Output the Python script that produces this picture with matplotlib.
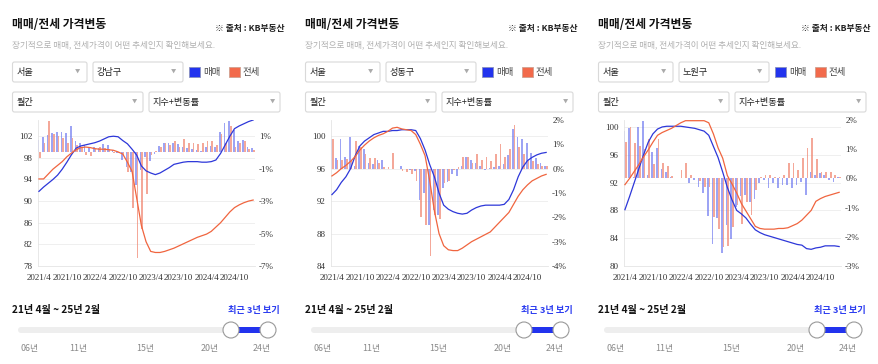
import numpy as np
import matplotlib.pyplot as plt
from matplotlib.patches import FancyBboxPatch, Rectangle, Circle

plt.rcParams['font.family'] = ['Noto Sans CJK KR', 'DejaVu Sans']

# ---- data (2021/4 ~ 2025/2, monthly) ----
x_tick_labels = ['2021/4', '2021/10', '2022/4', '2022/10', '2023/4', '2023/10', '2024/4', '2024/10']
districts = ['강남구', '성동구', '노원구']

gangnam_sale_idx = [91.8, 92.6, 93.3, 94.0, 94.8, 95.9, 97.2, 98.6, 99.8, 100.2, 100.4, 100.6, 100.8, 101.1,
                    101.5, 101.9, 102.0, 101.9, 101.2, 100.6, 99.6, 98.5, 96.5, 95.6, 95.2, 94.9, 95.2, 95.7,
                    96.2, 96.8, 97.0, 97.2, 97.3, 97.3, 97.3, 97.2, 97.2, 97.3, 97.6, 98.8, 100.4, 102.0,
                    103.4, 103.9, 104.3, 104.7, 105.0]
gangnam_jeonse_idx = [94.1, 94.1, 95.0, 95.9, 96.6, 97.3, 98.2, 98.9, 99.5, 99.9, 100.0, 99.9, 99.7, 99.6,
                      99.6, 99.5, 99.4, 99.1, 98.7, 97.2, 95.5, 90.5, 85.5, 82.5, 80.7, 80.5, 80.5, 80.7,
                      81.0, 81.3, 81.7, 82.1, 82.5, 82.9, 83.3, 83.6, 83.9, 84.4, 85.2, 86.0, 87.0, 88.0,
                      88.8, 89.3, 89.7, 90.0, 90.2]
gangnam_sale_chg = [0.74, 0.95, 1.1, 1.2, 1.24, 1.28, 1.2, 1.66, 0.68, 0.57, 0.43, 0.36, 0.32, 0.26, 0.53,
                    0.47, 0.16, -0.05, -0.47, -0.89, -1.2, -2.0, -1.1, -0.26, -0.51, -0.1, 0.4, 0.57, 0.6,
                    0.57, 0.53, 0.36, 0.26, 0.2, 0.16, 0.11, 0.32, 0.4, 0.36, 1.24, 1.82, 1.93, 1.36, 0.68,
                    0.78, 0.36, 0.3]
gangnam_jeonse_chg = [-0.32, 0.57, 1.93, 1.15, 1.03, 0.89, 0.57, 0.89, 0.47, 0.32, -0.16, -0.2, 0.2, 0.32,
                      0.26, 0.2, -0.05, -0.05, -0.16, -1.2, -3.4, -6.5, -4.7, -2.55, -0.16, 0.1, 0.32, 0.6,
                      0.47, 0.68, 0.36, 0.82, 0.57, 0.57, 0.53, 0.57, 0.68, 0.68, 0.47, 1.15, 0.57, 1.6,
                      0.36, 0.57, 0.68, 0.2, 0.15]

seongdong_sale_idx = [92.8, 93.4, 94.3, 95.0, 96.0, 97.6, 98.8, 99.4, 99.8, 100.2, 100.4, 100.6, 100.6, 100.7,
                      100.7, 100.8, 100.8, 100.8, 100.7, 99.7, 98.3, 96.5, 95.0, 93.0, 91.5, 91.0, 90.7, 90.5,
                      90.4, 90.5, 90.9, 91.2, 91.4, 91.5, 91.5, 91.5, 91.5, 91.6, 92.2, 93.4, 95.0, 96.2,
                      97.0, 97.4, 97.7, 97.9, 98.0]
seongdong_jeonse_idx = [95.1, 95.5, 96.0, 96.4, 96.9, 97.5, 98.3, 98.9, 99.4, 99.8, 100.1, 100.3, 100.6, 101.0,
                        101.1, 100.9, 100.8, 100.7, 100.2, 99.0, 97.6, 94.5, 90.8, 88.0, 86.5, 86.0, 85.9, 85.9,
                        86.2, 86.6, 87.0, 87.3, 87.6, 87.9, 88.2, 88.8, 89.4, 90.0, 90.6, 91.6, 92.6, 93.4,
                        94.0, 94.5, 94.8, 95.1, 95.3]
seongdong_sale_chg = [1.2, 0.45, 1.2, 0.5, 1.3, 0.1, 0.95, 0.8, 0.25, 0.2, 0.35, 0.35, 0.0, 0.0, 0.0, 0.1,
                      0.0, -0.05, -0.1, -1.3, -1.0, -2.3, -1.7, -1.9, -0.8, -0.55, -0.2, -0.3, 0.12, 0.5,
                      0.35, 0.25, 0.12, -0.05, 0.03, 0.05, 0.1, 0.2, 0.55, 1.65, 1.3, 1.2, 1.05, 0.65, 0.45,
                      0.25, 0.1]
seongdong_jeonse_chg = [1.2, 0.35, 0.35, 0.4, 0.3, 1.15, 0.9, 0.6, 0.45, 0.45, 0.25, 0.05, 0.05, 0.65, 0.0,
                        -0.1, -0.12, -0.2, -0.5, -2.0, -2.3, -3.6, -1.9, -2.05, -0.6, -0.5, -0.05, 0.05, 0.5,
                        0.5, 0.25, 0.6, 0.35, 0.5, 0.3, 0.6, 1.0, 0.5, 0.8, 1.8, 0.9, 0.6, 0.35, 0.3, 0.2,
                        0.12, 0.1]

nowon_sale_idx = [88.1, 90.0, 92.0, 94.0, 96.0, 97.8, 99.0, 99.7, 100.0, 100.1, 100.1, 100.1, 100.1, 100.0,
                  99.9, 99.8, 99.6, 99.4, 98.8, 97.2, 95.6, 93.5, 91.3, 89.5, 88.0, 87.5, 86.9, 86.0, 85.2,
                  84.8, 84.5, 84.3, 84.1, 83.9, 83.7, 83.5, 83.3, 83.1, 83.0, 82.5, 82.4, 82.6, 82.7, 82.9,
                  82.9, 82.9, 82.8]
nowon_jeonse_idx = [91.7, 92.6, 93.6, 94.6, 95.7, 96.7, 97.8, 98.8, 99.2, 99.5, 99.8, 100.2, 100.6, 100.9,
                    100.9, 100.9, 100.9, 100.9, 100.6, 99.0, 97.0, 95.5, 93.0, 91.8, 90.5, 89.0, 87.9, 86.8,
                    85.7, 85.4, 85.3, 85.3, 85.3, 85.4, 85.4, 85.5, 85.8, 86.1, 86.6, 87.3, 88.0, 89.3,
                    89.7, 90.0, 90.2, 90.4, 90.6]
nowon_sale_chg = [1.64, 1.72, 0.05, 1.76, 1.95, 0.1, 0.92, 1.03, 0.31, 0.23, 0.05, 0.0, 0.02, 0.0, -0.17,
                  -0.05, -0.29, -0.49, -1.3, -2.24, -1.34, -2.56, -1.61, -2.07, -0.98, -0.61, -0.57, -0.8,
                  -0.69, -0.17, -0.05, -0.34, -0.17, -0.34, -0.23, -0.23, -0.34, -0.23, -0.11, -0.57, 0.23,
                  0.11, 0.2, 0.11, -0.05, -0.11, 0.05]
nowon_jeonse_chg = [1.24, 1.75, 1.2, 1.1, 1.0, 1.34, 0.5, 1.34, 0.52, 0.43, 0.09, 0.02, 0.29, 0.52, 0.1,
                    0.0, -0.1, -0.29, -0.3, -1.32, -1.72, -2.36, -2.33, -1.67, -0.92, -1.55, -0.8, -1.26,
                    -0.4, 0.05, 0.11, 0.11, 0.05, 0.05, 0.11, 0.52, 0.52, 0.29, 0.69, 1.03, 1.38, 0.66,
                    0.23, 0.23, 0.23, 0.11, 0.05]

slider_labels = ['06년', '11년', '15년', '20년', '24년']
slider_label_x = [30, 78, 145, 210, 262]

W, H = 879, 364
BLUE_LINE = '#2d37d9'
RED_LINE = '#f0653f'
SERIF = 'Liberation Serif'
TICK_SIZE = 6.5

fig = plt.figure(figsize=(W / 100, H / 100), dpi=100)
fig.patch.set_facecolor('white')
ui = fig.add_axes([0, 0, 1, 1])
ui.set_xlim(0, W)
ui.set_ylim(H, 0)
ui.axis('off')


def box(x0, y0, x1, y1, label, arrow_x):
    ui.add_patch(FancyBboxPatch((x0, y0), x1 - x0, y1 - y0, boxstyle='round,pad=0,rounding_size=2',
                                fc='white', ec='#d9d9d9', lw=0.8))
    ui.text(x0 + 4, (y0 + y1) / 2, label, fontsize=6.6, color='#222222', va='center', ha='left')
    ui.text(arrow_x, (y0 + y1) / 2 + 0.5, '▼', fontsize=3.8, color='#aaaaaa', va='center', ha='center')


def draw_ui(ox, district):
    ui.text(ox + 12, 25, '매매/전세 가격변동', fontsize=8.5, fontweight='bold', color='#111111', va='center')
    ui.text(ox + 285, 29, '※ 출처 : KB부동산', fontsize=6.3, fontweight='bold', color='#222222',
            va='center', ha='right')
    ui.text(ox + 12, 45, '장기적으로 매매, 전세가격이 어떤 추세인지 확인해보세요.', fontsize=6.2,
            color='#b0b0b0', va='center')
    box(ox + 12.5, 62, ox + 87, 82, '서울', ox + 77)
    box(ox + 93, 62, ox + 183, 82, district, ox + 173)
    ui.add_patch(Rectangle((ox + 189.5, 67), 10.5, 10, fc='#2233ee', ec='#8890c0', lw=0.6))
    ui.text(ox + 203, 72, '매매', fontsize=6.8, color='#444444', va='center')
    ui.add_patch(Rectangle((ox + 229.5, 67), 10.5, 10, fc='#f26a4b', ec='#d0a090', lw=0.6))
    ui.text(ox + 243, 72, '전세', fontsize=6.8, color='#444444', va='center')
    box(ox + 12.5, 92, ox + 143, 112, '월간', ox + 134)
    box(ox + 149, 92, ox + 280, 112, '지수+변동률', ox + 272)

    # period + slider
    ui.text(ox + 12, 310, '21년 4월 ~ 25년 2월', fontsize=7.3, fontweight='bold', color='#111111', va='center')
    ui.text(ox + 280, 310, '최근 3년 보기', fontsize=6.6, fontweight='bold', color='#2a3bf0',
            va='center', ha='right')
    ui.add_patch(FancyBboxPatch((ox + 18, 327), 257, 6, boxstyle='round,pad=0,rounding_size=3',
                                fc='#eeeeee', ec='none'))
    ui.add_patch(Rectangle((ox + 231, 327), 37, 6, fc='#2233ee', ec='none'))
    for cx in (ox + 231, ox + 268):
        ui.add_patch(Circle((cx, 330), 8, fc='white', ec='#999999', lw=0.8, zorder=3))
    for lab, lx in zip(slider_labels, slider_label_x):
        ui.text(ox + lx, 348, lab, fontsize=6.4, color='#8a8a8a', va='center', ha='center')


def draw_chart(ox, sale_idx, jeonse_idx, sale_chg, jeonse_chg, lrange, lticks, rrange, rticks):
    ax = fig.add_axes([(ox + 38) / W, (H - 266) / H, 217 / W, 146 / H])
    ax2 = ax.twinx()
    x = np.arange(len(sale_idx))

    # grid at left-axis ticks, converted to right-axis units
    for v in lticks:
        g = rrange[0] + (v - lrange[0]) / (lrange[1] - lrange[0]) * (rrange[1] - rrange[0])
        ax.axhline(g, color='#ececec', lw=0.6, zorder=0)

    ax.bar(x - 0.18, sale_chg, width=0.36, color='#5c68ee', alpha=0.6, zorder=2)
    ax.bar(x + 0.18, jeonse_chg, width=0.36, color='#f0846e', alpha=0.7, zorder=2)
    ax.set_ylim(rrange)
    ax.set_xlim(-0.2, 46.4)
    ax.yaxis.tick_right()
    ax.set_yticks(rticks)
    ax.set_yticklabels([f'{t}%' for t in rticks])
    ax.set_xticks(range(0, len(sale_idx), 6))
    ax.set_xticklabels(x_tick_labels)
    ax.tick_params(axis='x', length=0, pad=6, labelsize=TICK_SIZE, labelcolor='#333333')
    ax.tick_params(axis='y', length=0, pad=3, labelsize=TICK_SIZE, labelcolor='#333333')
    for lab in ax.get_xticklabels() + ax.get_yticklabels():
        lab.set_family(SERIF)

    ax2.plot(x, sale_idx, color=BLUE_LINE, lw=0.9)
    ax2.plot(x, jeonse_idx, color=RED_LINE, lw=0.9)
    ax2.set_ylim(lrange)
    ax2.yaxis.tick_left()
    ax2.set_yticks(lticks)
    ax2.tick_params(axis='y', length=0, pad=4, labelsize=TICK_SIZE, labelcolor='#333333')
    for lab in ax2.get_yticklabels():
        lab.set_family(SERIF)

    for a in (ax, ax2):
        for s in a.spines.values():
            s.set_visible(False)
    ax.spines['left'].set_visible(True)
    ax.spines['bottom'].set_visible(True)
    ax.spines['left'].set_color('#e4e4e4')
    ax.spines['bottom'].set_color('#e4e4e4')
    ax.spines['left'].set_linewidth(0.6)
    ax.spines['bottom'].set_linewidth(0.6)


panels = [
    (0, districts[0], gangnam_sale_idx, gangnam_jeonse_idx, gangnam_sale_chg, gangnam_jeonse_chg,
     (78, 105), [78, 82, 86, 90, 94, 98, 102], (-7, 2), [-7, -5, -3, -1, 1]),
    (293, districts[1], seongdong_sale_idx, seongdong_jeonse_idx, seongdong_sale_chg, seongdong_jeonse_chg,
     (84, 102), [84, 88, 92, 96, 100], (-4, 2), [-4, -3, -2, -1, 0, 1, 2]),
    (586, districts[2], nowon_sale_idx, nowon_jeonse_idx, nowon_sale_chg, nowon_jeonse_chg,
     (80, 101), [80, 84, 88, 92, 96, 100], (-3, 2), [-3, -2, -1, 0, 1, 2]),
]

for ox, dist, si, ji, sc, jc, lr, lt, rr, rt in panels:
    draw_ui(ox, dist)
    draw_chart(ox, si, ji, sc, jc, lr, lt, rr, rt)

plt.savefig('out.png', dpi=100)
